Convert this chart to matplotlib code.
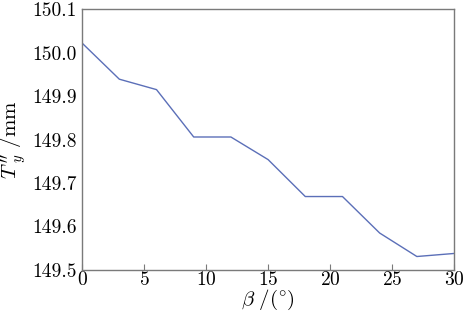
import matplotlib
matplotlib.use('Agg')
import matplotlib.pyplot as plt
from matplotlib.ticker import FormatStrFormatter

plt.rcParams['font.family'] = 'cmr10'
plt.rcParams['mathtext.fontset'] = 'cm'
plt.rcParams['axes.formatter.use_mathtext'] = True

# 数据
beta = [0, 3, 6, 9, 12, 15, 18, 21, 24, 27, 30]
ty = [150.022, 149.939, 149.915, 149.806, 149.806, 149.754,
      149.669, 149.669, 149.585, 149.531, 149.538]

fig = plt.figure(figsize=(4.72, 3.18), dpi=100)
ax = fig.add_axes([0.174, 0.151, 0.788, 0.820])

ax.plot(beta, ty, color='#5b6fb8', linewidth=1.0)

ax.set_xlim(0, 30)
ax.set_ylim(149.5, 150.1)
ax.set_xticks([0, 5, 10, 15, 20, 25, 30])
ax.set_yticks([149.5, 149.6, 149.7, 149.8, 149.9, 150.0, 150.1])
ax.yaxis.set_major_formatter(FormatStrFormatter('%.1f'))

for s in ax.spines.values():
    s.set_color('#7a7a7a')
    s.set_linewidth(1.0)

ax.tick_params(axis='x', direction='in', length=4, color='#7a7a7a',
               labelsize=14, pad=1)
ax.tick_params(axis='y', length=0, labelsize=14, pad=4)

ax.set_xlabel(r'$\beta\ /(^{\circ})$', fontsize=15, labelpad=-1)
ax.set_ylabel(r"$T\,^{\prime\prime}_{y}\ /\mathrm{mm}$", fontsize=15, labelpad=2)

fig.savefig('out.png', dpi=100)
